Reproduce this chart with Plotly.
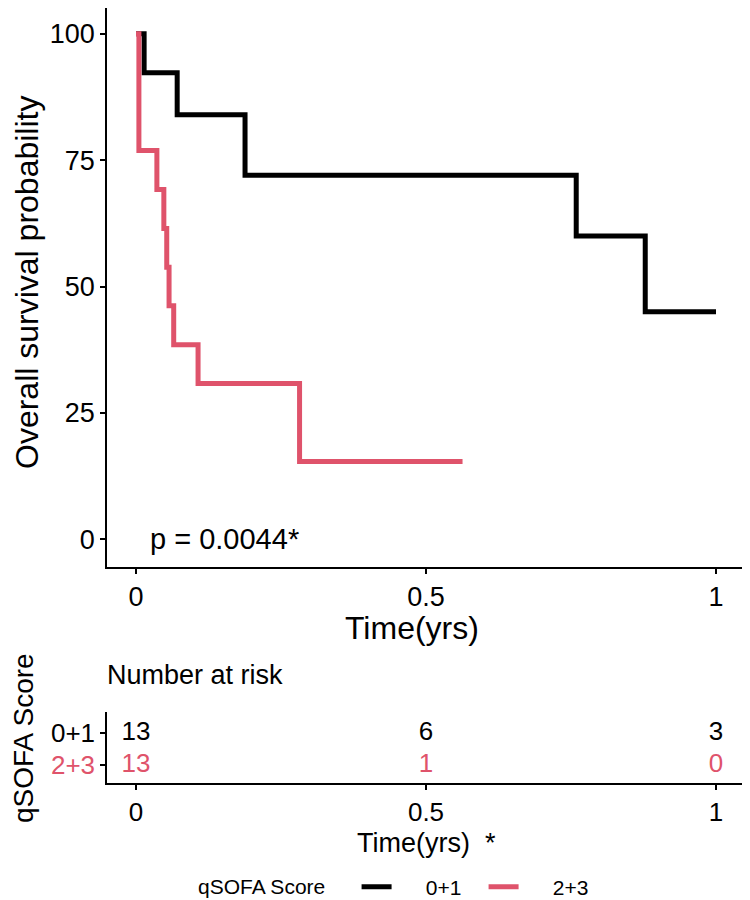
import plotly.graph_objects as go

# ---- data ----
groups = ["0+1", "2+3"]
colors = ["#000000", "#DF536B"]

time_g1 = [0, 0.014, 0.071, 0.188, 0.759, 0.878, 1.0]
surv_g1 = [100, 92.3, 84.0, 72.0, 60.0, 45.0, 45.0]

time_g2 = [0, 0.005, 0.036, 0.048, 0.053, 0.057, 0.065, 0.107, 0.282, 0.563]
surv_g2 = [100, 76.9, 69.2, 61.5, 53.8, 46.2, 38.5, 30.8, 15.4, 15.4]

risk_times = [0, 0.5, 1]
risk_g1 = [13, 6, 3]
risk_g2 = [13, 1, 0]

p_label = "p = 0.0044*"
legend_title = "qSOFA Score"

FONT = "Liberation Sans, Arial, sans-serif"
OFF = 8  # page body margin
W, H = 750 - OFF, 900 - OFF
PAD = "&nbsp;"

def px_x(p):
    return min(max((p - OFF) / W, 0), 1)

def px_y(p):
    return min(max(1 - (p - OFF) / H, 0), 1)

fig = go.Figure()

for t, s, name, col in [(time_g1, surv_g1, groups[0], colors[0]),
                        (time_g2, surv_g2, groups[1], colors[1])]:
    fig.add_trace(go.Scatter(x=t, y=s, mode="lines", line=dict(shape="hv", color=col, width=5),
                             name=PAD * 5 + name, xaxis="x", yaxis="y", showlegend=True))

# risk table
rt_x = risk_times + risk_times
rt_y = [2] * len(risk_times) + [1] * len(risk_times)
rt_text = [str(v) for v in risk_g1] + [str(v) for v in risk_g2]
rt_col = [colors[0]] * len(risk_times) + [colors[1]] * len(risk_times)
fig.add_trace(go.Scatter(x=rt_x, y=rt_y, mode="text", text=rt_text,
                         textfont=dict(color=rt_col, size=26, family=FONT),
                         xaxis="x2", yaxis="y2", showlegend=False, hoverinfo="skip"))

xdom = [px_x(107), px_x(745)]
axis_common = dict(showgrid=False, zeroline=False, showline=True, linecolor="black", linewidth=1.5,
                   ticks="outside", ticklen=5, tickwidth=1.5, tickcolor="black",
                   tickfont=dict(size=27, color="black", family=FONT))
small_tf = dict(size=26, color="black", family=FONT)

fig.update_layout(
    width=W, height=H,
    margin=dict(l=0, r=0, t=0, b=0, autoexpand=False),
    plot_bgcolor="white", paper_bgcolor="white",
    font=dict(family=FONT, color="black"),
    xaxis=dict(domain=xdom, range=[-0.05, 1.05], anchor="y", tickvals=[0, 0.5, 1], ticktext=["0", "0.5", "1"],
               **axis_common),
    yaxis=dict(domain=[px_y(567), px_y(3)], range=[-5.49, 105.1], anchor="x",
               tickvals=[0, 25, 50, 75, 100], **axis_common),
    xaxis2=dict(domain=xdom, range=[-0.05, 1.05], anchor="y2", tickvals=[0, 0.5, 1], ticktext=["0", "0.5", "1"],
                **{**axis_common, "tickfont": small_tf}),
    yaxis2=dict(domain=[px_y(783), px_y(712)], range=[0.4375, 2.656], anchor="x2",
                tickvals=[2, 1],
                ticktext=[f"<span style='color:{colors[0]}'>{groups[0]}</span>",
                          f"<span style='color:{colors[1]}'>{groups[1]}</span>"],
                **{**axis_common, "tickfont": small_tf}),
    legend=dict(orientation="h", x=px_x(196), xanchor="left", y=px_y(887), yanchor="middle",
                font=dict(size=21, family=FONT),
                title=dict(text=legend_title + PAD * 4, font=dict(size=21, family=FONT)),
                itemwidth=30, entrywidth=82, bgcolor="rgba(0,0,0,0)", borderwidth=0),
    showlegend=True,
)

annos = [
    dict(text="Overall survival probability", x=px_x(27), y=px_y(283), textangle=-90, font=dict(size=32)),
    dict(text="Time(yrs)", x=px_x(412), y=px_y(628), font=dict(size=32)),
    dict(text="Number at risk", x=px_x(105), y=px_y(675), xanchor="left", font=dict(size=27)),
    dict(text="qSOFA Score", x=px_x(23), y=px_y(738), textangle=-90, font=dict(size=28)),
    dict(text="Time(yrs)  *", x=px_x(426), y=px_y(843), font=dict(size=27)),
]
for a in annos:
    a.setdefault("xanchor", "center")
    fig.add_annotation(xref="paper", yref="paper", showarrow=False, yanchor="middle", **a)

fig.add_annotation(text=p_label, x=0.02, y=0, xref="x", yref="y", xanchor="left", yanchor="middle",
                   showarrow=False, font=dict(size=29))

fig.write_html("out.html")
